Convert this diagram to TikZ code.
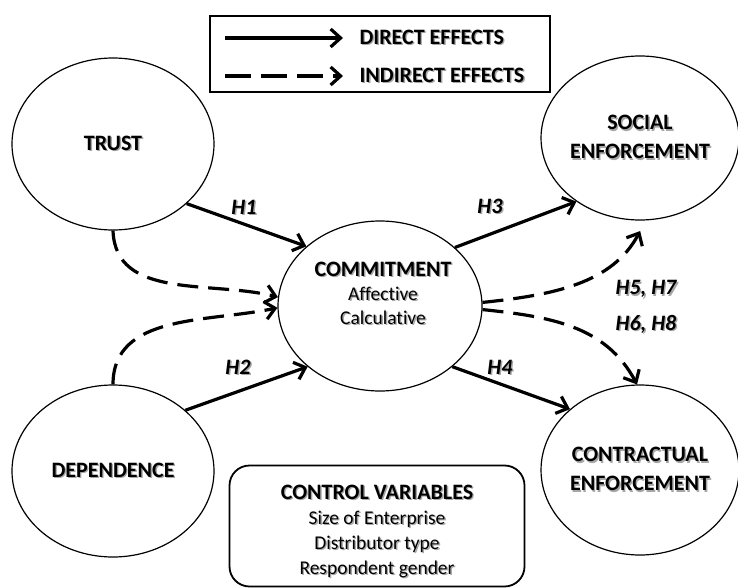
\documentclass[tikz,border=0pt]{standalone}
\usepackage{fontspec}
\setmainfont[Ligatures=NoCommon]{Carlito}
\usetikzlibrary{shapes.geometric,arrows.meta}

% grey drop shadow behind a label
\newcommand{\shd}[1]{\rlap{\kern1.4pt\raisebox{-1.4pt}{\textcolor{black!35}{#1}}}#1}

\begin{document}
\begin{tikzpicture}[x=1pt, y=-1pt, >={Straight Barb[length=10pt,width=18pt]}]
    \tikzstyle{construct} = [ellipse, draw, line width=1.2pt, inner sep=0pt, align=center, font=\fontsize{22}{29}\selectfont\bfseries]
    \tikzstyle{direct} = [->, line width=3.2pt]
    \tikzstyle{indirect} = [->, line width=3.2pt, dash pattern=on 21pt off 10pt]
    \tikzstyle{hyp} = [font=\fontsize{22}{24}\selectfont\bfseries\itshape]
    \tikzstyle{plain} = [align=center, font=\fontsize{19.5}{25}\selectfont]

    \useasboundingbox (0,0) rectangle (738,588);

    % Legend
    \node[draw, line width=2.4pt, minimum width=340pt, minimum height=76pt] (legend) at (380,54) {};
    \node[anchor=west, font=\fontsize{22}{25}\selectfont\bfseries] (ldirect) at (356,38) {\shd{DIRECT EFFECTS}};
    \node[anchor=west, font=\fontsize{22}{25}\selectfont\bfseries] (lindirect) at (356,76) {\shd{INDIRECT EFFECTS}};
    \coordinate (d1) at (225,38);
    \coordinate (d2) at (343,38);
    \coordinate (i1) at (225,76);
    \coordinate (i2) at (343,76);

    % Nodes
    \node[construct, minimum width=202pt, minimum height=172pt] (trust) at (113,144) {\shd{TRUST}};
    \node[construct, minimum width=202pt, minimum height=172pt] (dep) at (113,471) {\shd{DEPENDENCE}};
    \node[construct, minimum width=204pt, minimum height=170pt] (comm) at (380,306) {};
    \node[construct, minimum width=192pt, minimum height=164pt] (social) at (640,138) {\shd{SOCIAL}\\\shd{ENFORCEMENT}};
    \node[construct, minimum width=192pt, minimum height=170pt] (contract) at (640,470) {\shd{CONTRACTUAL}\\\shd{ENFORCEMENT}};
    \node[plain] (commtxt) at (383,294) {{\fontsize{22}{25}\selectfont\bfseries\shd{COMMITMENT}}\\[-1pt]\shd{Affective}\\[-1pt]\shd{Calculative}};

    % Controls
    \node[draw, rounded corners=20pt, line width=1.8pt, minimum width=295pt, minimum height=121pt] (ctrl) at (377,526) {};
    \node[plain] (ctrltxt) at (377,532) {{\fontsize{22}{25}\selectfont\bfseries\shd{CONTROL VARIABLES}}\\\shd{Size of Enterprise}\\\shd{Distributor type}\\\shd{Respondent gender}};

    % Hypotheses
    \node[hyp] (h1) at (244,208) {\shd{H1}};
    \node[hyp] (h2) at (238,368) {\shd{H2}};
    \node[hyp] (h3) at (490,207) {\shd{H3}};
    \node[hyp] (h4) at (500,368) {\shd{H4}};
    \node[hyp] (h57) at (646,290) {\shd{H5, H7}};
    \node[hyp] (h68) at (646,325) {\shd{H6, H8}};

    % Edges
    \path (d1) edge[direct] (d2);
    \path (i1) edge[indirect, dash pattern=on 26pt off 10pt] (i2);
    \path (trust.-39) edge[direct] (comm.141);
    \path (dep.40) edge[direct] (comm.-140);
    \path (comm.38) edge[direct] (social.-135);
    \path (comm.-40) edge[direct] (contract.139);
    \path (trust.-90) edge[indirect, out=-88, in=166] (comm.175);
    \path (dep.90) edge[indirect, out=90, in=-168] (comm.-179);
    \path (comm.2) edge[indirect, out=6, in=-118, shorten >=12pt] (social.-86);
    \path (comm.-2) edge[indirect, out=-6, in=118] (contract.92);

\end{tikzpicture}
\end{document}
